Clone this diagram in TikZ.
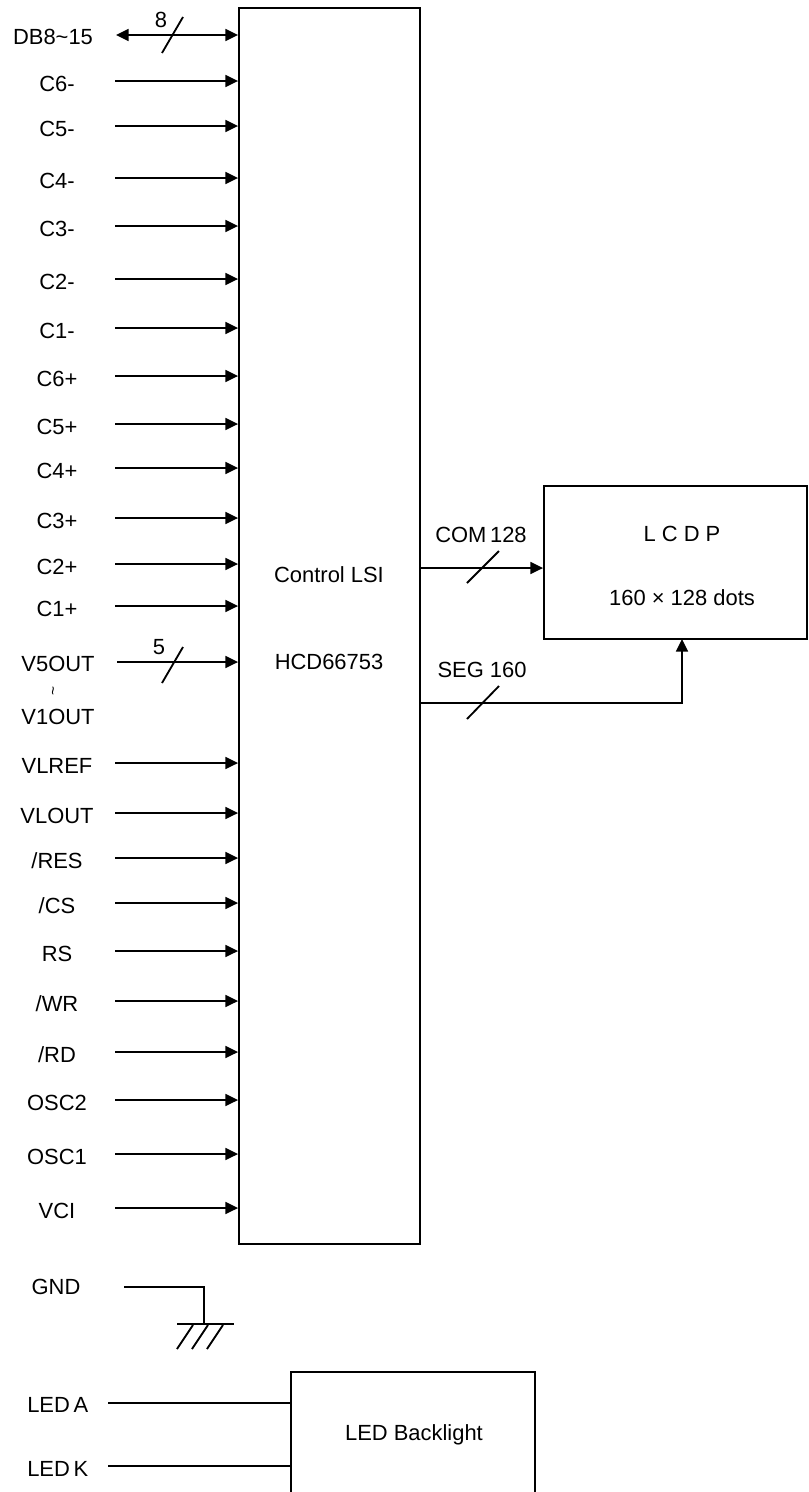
\documentclass[tikz,border=0pt]{standalone}
\usepackage{fontspec}
\setmainfont{Liberation Sans}
\usetikzlibrary{arrows.meta,fit}

\tikzset{
  sig/.style={line width=1.3pt,-{Triangle[length=9pt,width=8.5pt]}},
  bus/.style={line width=1.3pt,{Triangle[length=9pt,width=8.5pt]}-{Triangle[length=9pt,width=8.5pt]}},
  wire/.style={line width=1.3pt},
  blk/.style={draw,line width=1.3pt,inner sep=0pt},
  lbl/.style={inner sep=0pt}
}

\begin{document}
\begin{tikzpicture}[x=0.25mm,y=-0.25mm]

\fontsize{15.6}{18}\selectfont
\useasboundingbox (0,0) rectangle (808,1492);

% blocks
\node[blk,fit={(239,8) (420,1244)}] (lsi) {};
\node[blk,fit={(544,486) (807,639)}] (lcd) {};
\node[blk,fit={(291,1372) (535,1520)}] (led) {};

\node[lbl] (lsiname) at (329,575) {Control LSI};
\node[lbl] (lsichip) at (329,662) {HCD66753};
\node[lbl] (lcdname) at (682,534) {L C D P};
\node[lbl] (lcddots) at (682,598) {160 × 128 dots};
\node[lbl] (ledname) at (414,1435) {LED Backlight};

% data bus
\node[lbl] (db) at (53,37) {DB8\textasciitilde15};
\coordinate (db-in) at (116,35);
\draw[bus] (db-in) -- (db-in -| lsi.west);
\draw[wire] (162,53) -- (183,17);
\node[lbl] (dbn) at (161,20) {8};

% input pins
\foreach \name/\y/\txt in {c6m/81/{C6-},c5m/126/{C5-},c4m/178/{C4-},c3m/226/{C3-},
    c2m/279/{C2-},c1m/328/{C1-},c6p/376/{C6+},c5p/424/{C5+},c4p/468/{C4+},
    c3p/518/{C3+},c2p/564/{C2+},c1p/606/{C1+},vlref/763/{VLREF},vlout/813/{VLOUT},
    res/858/{/RES},cs/903/{/CS},rs/951/{RS},wr/1001/{/WR},rd/1052/{/RD},
    osc2/1100/{OSC2},osc1/1154/{OSC1},vci/1208/{VCI}}
{
  \node[lbl] (\name) at (57,\y+3) {\txt};
  \coordinate (\name-in) at (115,\y);
  \draw[sig] (\name-in) -- (\name-in -| lsi.west);
}

% V5OUT ~ V1OUT
\node[lbl] (v5out) at (58,664) {V5OUT};
\node[lbl,rotate=90,font=\fontsize{11}{11}\selectfont] (vtilde) at (55,691) {\textasciitilde};
\node[lbl] (v1out) at (58,717) {V1OUT};
\coordinate (v5-in) at (117,662);
\draw[sig] (v5-in) -- (v5-in -| lsi.west);
\draw[wire] (162,683) -- (183,647);
\node[lbl] (v5n) at (159,647) {5};

% outputs to the panel
\coordinate (com-out) at (420,568);
\draw[sig] (com-out) -- (com-out -| lcd.west);
\draw[wire] (467,583) -- (499,551);
\node[lbl] (com) at (481,535) {COM\,128};

\coordinate (seg-out) at (420,703);
\coordinate (seg-in) at (682,639);
\draw[sig] (seg-out) -| (seg-in);
\draw[wire] (467,719) -- (499,686);
\node[lbl] (seg) at (482,670) {SEG 160};

% ground
\node[lbl] (gnd) at (56,1287) {GND};
\coordinate (gnd-a) at (124,1287);
\coordinate (gnd-b) at (204,1324);
\draw[wire] (gnd-a) -| (gnd-b);
\draw[wire] (177,1324) -- (234,1324);
\draw[wire] (177,1349) -- (193,1325);
\draw[wire] (192,1349) -- (208,1325);
\draw[wire] (207,1349) -- (223,1325);

% backlight
\node[lbl,anchor=west] (leda) at (27,1405) {LED\,A};
\coordinate (leda-in) at (108,1403);
\draw[wire] (leda-in) -- (leda-in -| led.west);
\node[lbl,anchor=west] (ledk) at (27,1469) {LED\,K};
\coordinate (ledk-in) at (108,1466);
\draw[wire] (ledk-in) -- (ledk-in -| led.west);

\end{tikzpicture}
\end{document}
